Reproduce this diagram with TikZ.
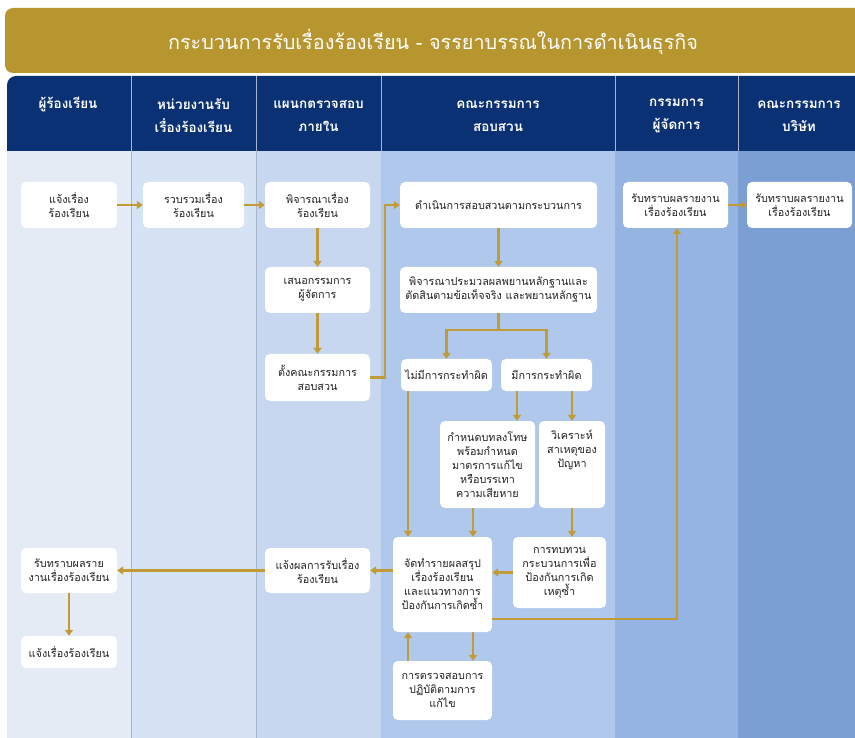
\documentclass[tikz,border=0pt]{standalone}
\usepackage{fontspec}
\setmainfont[Script=Thai]{Loma}
\usetikzlibrary{arrows.meta}
\definecolor{gold}{HTML}{B8962F}
\definecolor{arrowgold}{HTML}{C19B36}
\definecolor{hdrblue}{HTML}{0A3173}
\definecolor{laneA}{HTML}{E5EBF5}
\definecolor{laneB}{HTML}{D6E3F4}
\definecolor{laneC}{HTML}{C6D7EF}
\definecolor{laneD}{HTML}{AFC8EB}
\definecolor{laneE}{HTML}{96B4E1}
\definecolor{laneF}{HTML}{7C9FD3}
\definecolor{sepgray}{HTML}{A9B6C9}
\definecolor{boxtext}{HTML}{222222}
\tikzset{
  box/.style={fill=white, rounded corners=5pt, inner sep=0pt, align=center,
    text=boxtext, font=\fontsize{10.8}{14}\selectfont},
  hdr/.style={text=white, align=center, font=\bfseries\fontsize{13.5}{23}\selectfont},
  arr/.style={draw=arrowgold, line width=2.2pt, -{Triangle[width=8pt,length=6pt]}},
}
\begin{document}
\begin{tikzpicture}[x=1pt,y=-1pt]
\useasboundingbox (0,0) rectangle (855,738);
% title band
\fill[gold, rounded corners=8pt] (5,8) rectangle (875,73);
\node[text=white, font=\fontsize{19.8}{22}\selectfont] (title) at (433,42) {กระบวนการรับเรื่องร้องเรียน - จรรยาบรรณในการดำเนินธุรกิจ};
% lanes
\fill[laneA] (7,151) rectangle (131,738);
\fill[laneB] (131,151) rectangle (256,738);
\fill[laneC] (256,151) rectangle (381,738);
\fill[laneD] (381,151) rectangle (615,738);
\fill[laneE] (615,151) rectangle (738,738);
\fill[laneF] (738,151) rectangle (860,738);
\draw[sepgray, line width=0.8pt] (131,151) -- (131,738) (256,151) -- (256,738);
% header
\fill[hdrblue, rounded corners=9pt] (7,151) -- (7,76) -- (875,76) -- (875,151) -- cycle;
\fill[hdrblue] (7,130) rectangle (875,151);
\draw[sepgray, line width=1pt] (131,76) -- (131,151) (256,76) -- (256,151) (381,76) -- (381,151) (615,76) -- (615,151) (738,76) -- (738,151);
\node[hdr] (h1) at (68,104) {ผู้ร้องเรียน};
\node[hdr] (h2) at (193.5,116) {หน่วยงานรับ\\เรื่องร้องเรียน};
\node[hdr] (h3) at (318.5,116) {แผนกตรวจสอบ\\ภายใน};
\node[hdr] (h4) at (498,116) {คณะกรรมการ\\สอบสวน};
\node[hdr] (h5) at (676.5,116) {กรรมการ\\ผู้จัดการ};
\node[hdr] (h6) at (799,116) {คณะกรรมการ\\บริษัท};
% boxes
\node[box, minimum width=96pt, minimum height=46pt] (b1) at (69,205) {แจ้งเรื่อง\\ร้องเรียน};
\node[box, minimum width=101pt, minimum height=46pt] (b2) at (193.5,205) {รวบรวมเรื่อง\\ร้องเรียน};
\node[box, minimum width=105pt, minimum height=46pt] (b3) at (317.5,205) {พิจารณาเรื่อง\\ร้องเรียน};
\node[box, minimum width=105pt, minimum height=46pt] (b4) at (317.5,290) {เสนอกรรมการ\\ผู้จัดการ};
\node[box, minimum width=105pt, minimum height=47pt] (b5) at (317.5,377.5) {ตั้งคณะกรรมการ\\สอบสวน};
\node[box, minimum width=197pt, minimum height=46pt] (b6) at (498.5,205) {ดำเนินการสอบสวนตามกระบวนการ};
\node[box, minimum width=197pt, minimum height=46pt] (b7) at (498.5,290) {พิจารณาประมวลผลพยานหลักฐานและ\\ตัดสินตามข้อเท็จจริง และพยานหลักฐาน};
\node[box, minimum width=91pt, minimum height=32pt] (b8) at (446.5,375) {ไม่มีการกระทำผิด};
\node[box, minimum width=91pt, minimum height=32pt] (b9) at (546.5,375) {มีการกระทำผิด};
\node[box, minimum width=95pt, minimum height=87pt] (b10) at (487.5,464.5) {กำหนดบทลงโทษ\\พร้อมกำหนด\\มาตรการแก้ไข\\หรือบรรเทา\\ความเสียหาย};
\node[box, minimum width=66pt, minimum height=87pt] (b11) at (572,464.5) {};
\node[box, fill=none, anchor=north] (b11t) at ([yshift=-9pt]b11.north) {วิเคราะห์\\สาเหตุของ\\ปัญหา};
\node[box, minimum width=99pt, minimum height=95pt] (b12) at (442.5,584.5) {จัดทำรายผลสรุป\\เรื่องร้องเรียน\\และแนวทางการ\\ป้องกันการเกิดซ้ำ};
\node[box, minimum width=93pt, minimum height=71pt] (b13) at (559.5,572.5) {การทบทวน\\กระบวนการเพื่อ\\ป้องกันการเกิด\\เหตุซ้ำ};
\node[box, minimum width=105pt, minimum height=45pt] (b14) at (317.5,570.5) {แจ้งผลการรับเรื่อง\\ร้องเรียน};
\node[box, minimum width=105pt, minimum height=46pt] (b15) at (675.5,205) {รับทราบผลรายงาน\\เรื่องร้องเรียน};
\node[box, minimum width=105pt, minimum height=46pt] (b16) at (799.5,205) {รับทราบผลรายงาน\\เรื่องร้องเรียน};
\node[box, minimum width=99pt, minimum height=59pt] (b17) at (442.5,690.5) {การตรวจสอบการ\\ปฏิบัติตามการ\\แก้ไข};
\node[box, minimum width=96pt, minimum height=45pt] (b18) at (69,570.5) {รับทราบผลราย\\งานเรื่องร้องเรียน};
\node[box, minimum width=96pt, minimum height=32pt] (b19) at (69,652) {แจ้งเรื่องร้องเรียน};
% connectors
\draw[arr] (b1.east) -- (b2.west);
\draw[arr] (b2.east) -- (b3.west);
\draw[arr] (b3.south) -- (b4.north);
\draw[arr] (b4.south) -- (b5.north);
\draw[arr] (b5.east) -- ++(15,0) |- (b6.west);
\draw[arr] (b6.south) -- (b7.north);
\draw[arr] (b7.south) -- ++(0,17) -| (b8.north);
\draw[arr] (b7.south) -- ++(0,17) -| (b9.north);
\draw[arr] ([xshift=-29.5pt]b9.south) -- ([xshift=-29.5pt]b9.south |- b10.north);
\draw[arr] (b9.south -| b11.north) -- (b11.north);
\draw[arr] ([xshift=-38.5pt]b8.south) -- ([xshift=-38.5pt]b8.south |- b12.north);
\draw[arr] ([xshift=-14.5pt]b10.south) -- ([xshift=-14.5pt]b10.south |- b12.north);
\draw[arr] (b11.south) -- (b11.south |- b13.north);
\draw[arr] (b13.west) -- (b13.west -| b12.east);
\draw[arr] (b12.west |- b14.east) -- (b14.east);
\draw[arr] (b14.west) -- (b18.east);
\draw[arr] (b18.south) -- (b19.north);
\draw[arr] ([yshift=-34.5pt]b12.east) -| ([xshift=1.5pt]b15.south);
\draw[arr] (b15.east) -- (b16.west);
\draw[arr] ([xshift=30.5pt]b12.south) -- ([xshift=30.5pt]b12.south |- b17.north);
\draw[arr] ([xshift=-34.5pt]b17.north) -- ([xshift=-34.5pt]b17.north |- b12.south);
\end{tikzpicture}
\end{document}
